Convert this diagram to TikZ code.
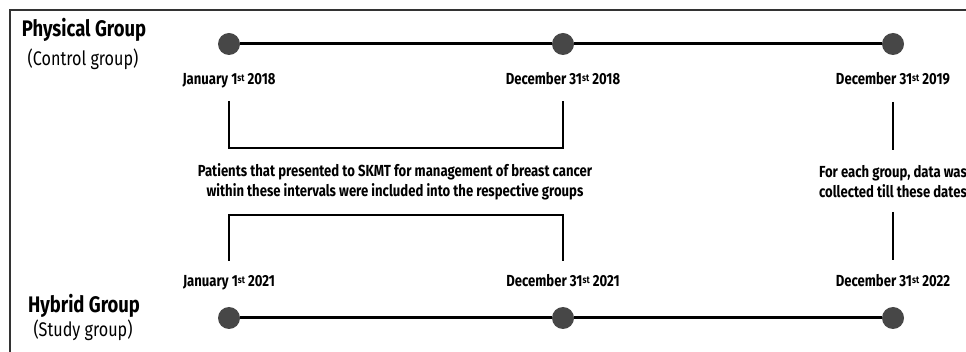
\documentclass[tikz,border=0pt]{standalone}
\usepackage{fontspec}
\setmainfont{Fira Sans}[FakeStretch=0.82]
\begin{document}
\begin{tikzpicture}[x=1pt,y=-1pt,
  dot/.style={circle,fill=black!72,inner sep=0pt,minimum size=22pt},
  tline/.style={line width=3pt,black},
  brk/.style={line width=2.4pt,black},
  datelbl/.style={font=\fontsize{16}{18}\selectfont\bfseries,inner sep=0pt,anchor=base},
  grp/.style={font=\fontsize{22.5}{24}\selectfont\bfseries,inner sep=0pt,anchor=base},
  sub/.style={font=\fontsize{19.7}{21}\selectfont,inner sep=0pt,anchor=base},
  note/.style={font=\fontsize{16}{20}\selectfont\bfseries,align=center,inner sep=0pt}]
\newcommand{\sst}{\raisebox{0.45ex}{\fontsize{10}{11}\selectfont st}}
\useasboundingbox (0,0) rectangle (966,352);
\fill[white] (0,0) rectangle (966,352);
\draw[line width=1.3pt,black!80] (10,352) -- (10,10) -- (966,10);
% top timeline
\node[dot] (t1) at (229,44) {};
\node[dot] (t2) at (563,44) {};
\node[dot] (t3) at (893,44) {};
\draw[tline] (t1) -- (t2) -- (t3);
% bottom timeline
\node[dot] (b1) at (229,318) {};
\node[dot] (b2) at (563,318) {};
\node[dot] (b3) at (893,318) {};
\draw[tline] (b1) -- (b2) -- (b3);
% group labels
\node[grp] (pg) at (84,37) {Physical Group};
\node[sub] (cg) at (83,66) {(Control group)};
\node[grp] (hg) at (84,313) {Hybrid Group};
\node[sub] (sg) at (83,337) {(Study group)};
% date labels
\node[datelbl] (d1) at (229,85) {January 1\sst\ 2018};
\node[datelbl] (d2) at (563,85) {December 31\sst\ 2018};
\node[datelbl] (d3) at (893,85) {December 31\sst\ 2019};
\node[datelbl] (e1) at (229,287) {January 1\sst\ 2021};
\node[datelbl] (e2) at (563,287) {December 31\sst\ 2021};
\node[datelbl] (e3) at (893,287) {December 31\sst\ 2022};
% notes
\node[note] (n1) at (395,182) {Patients that presented to SKMT for management of breast cancer\\within these intervals were included into the respective groups};
\node[note] (n2) at (893,182) {For each group, data was\\collected till these dates};
% brackets
\coordinate (u1) at (229,101);
\coordinate (u2) at (563,101);
\draw[brk] (u1) -- (229,148) -- (563,148) -- (u2);
\coordinate (l1) at (229,261);
\coordinate (l2) at (563,261);
\draw[brk] (l1) -- (229,215) -- (563,215) -- (l2);
\coordinate (r1) at (893,102);
\coordinate (r2) at (893,150);
\draw[brk] (r1) -- (r2);
\coordinate (r3) at (893,212);
\coordinate (r4) at (893,260);
\draw[brk] (r3) -- (r4);
\end{tikzpicture}
\end{document}
